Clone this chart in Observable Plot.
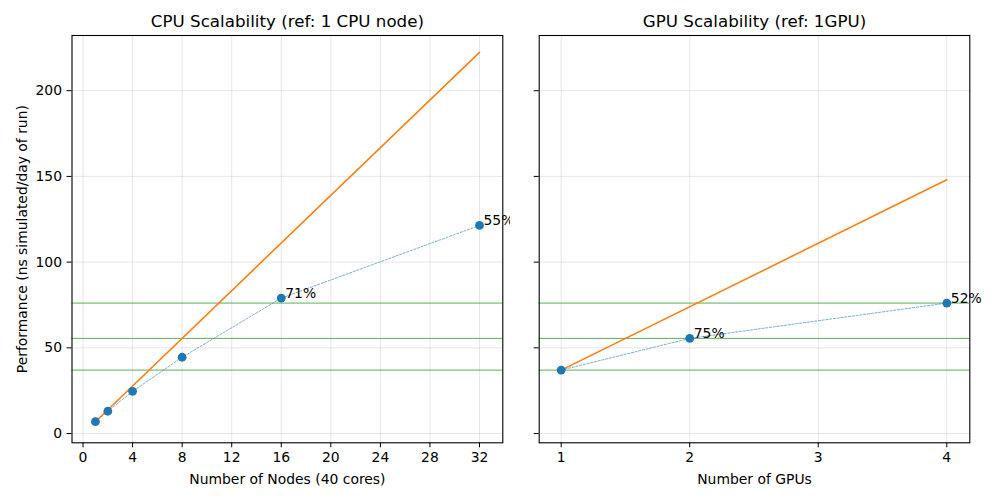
<!DOCTYPE html>
<html>
<head>
<meta charset="utf-8">
<script src="https://cdn.jsdelivr.net/npm/d3@7"></script>
<script src="https://cdn.jsdelivr.net/npm/@observablehq/plot@0.6"></script>
<style>
  html, body { margin: 0; padding: 0; background: white; }
  #wrap { position: relative; width: 1000px; height: 500px; background: white; }
  #wrap svg { position: absolute; top: 0; }
</style>
</head>
<body>
<div id="wrap"></div>
<script>
// ---- Data ----
const cpuNodes = [1, 2, 4, 8, 16, 32];
const cpuPerf = [6.9, 13.0, 24.6, 44.5, 79.0, 121.4];
const cpuEff = [null, null, null, null, "71%", "55%"];
const cpuIdealNodes = [1, 32];
const cpuIdealPerf = [6.9, 222.4];

const gpuCount = [1, 2, 4];
const gpuPerf = [37.0, 55.5, 76.1];
const gpuEff = [null, "75%", "52%"];
const gpuIdealCount = [1, 4];
const gpuIdealPerf = [37.0, 148.0];

const refLines = [37.0, 55.5, 76.1];

const cpuTicks = [0, 4, 8, 12, 16, 20, 24, 28, 32];
const gpuTicks = [1, 2, 3, 4];
const yTicks = [0, 50, 100, 150, 200];

const titles = ["CPU Scalability (ref: 1 CPU node)", "GPU Scalability (ref: 1GPU)"];
const xLabels = ["Number of Nodes (40 cores)", "Number of GPUs"];
const yLabel = "Performance (ns simulated/day of run)";

// ---- Styling ----
const BLUE = "#1f77b4", ORANGE = "#ff7f0e", GREEN = "#2ca02c";
const FONT = "DejaVu Sans";
const yDomain = [-5.4, 232.2];

function panel({width, marginLeft, marginRight, xDomain, xTicks, xs, ys, effs, ixs, iys, title, xLabel, showY}) {
  const pts = xs.map((x, i) => ({x, y: ys[i], label: effs[i]}));
  const ideal = ixs.map((x, i) => ({x, y: iys[i]}));
  const marks = [
    Plot.gridX(xTicks, {stroke: "#b0b0b0", strokeOpacity: 0.3, strokeWidth: 1}),
    Plot.gridY(yTicks, {stroke: "#b0b0b0", strokeOpacity: 0.3, strokeWidth: 1}),
    Plot.ruleY(refLines, {stroke: GREEN, strokeWidth: 0.8, strokeOpacity: 1}),
    Plot.line(pts, {x: "x", y: "y", stroke: BLUE, strokeWidth: 0.6, strokeDasharray: "2.2,1.6"}),
    Plot.line(ideal, {x: "x", y: "y", stroke: ORANGE, strokeWidth: 1.6}),
    Plot.dot(pts, {x: "x", y: "y", r: 4.4, fill: BLUE, stroke: "none"}),
    Plot.text(pts.filter(d => d.label), {x: "x", y: "y", text: "label", textAnchor: "start", lineAnchor: "bottom", dx: 4, fontSize: 13.9, fill: "black"}),
    Plot.axisX(xTicks, {tickSize: 5, tickPadding: 4.5, label: null, fontSize: 13.9, tickFormat: d => String(d)}),
    showY
      ? Plot.axisY(yTicks, {tickSize: 5, tickPadding: 5, label: null, fontSize: 13.9, tickFormat: d => String(d)})
      : Plot.axisY(yTicks, {tickSize: 5, tickFormat: () => "", label: null}),
    Plot.frame({stroke: "black", strokeWidth: 1.1}),
    Plot.text([title], {frameAnchor: "top", textAnchor: "middle", lineAnchor: "bottom", dy: -8.3, fontSize: 16.7, fill: "black"}),
    Plot.text([xLabel], {frameAnchor: "bottom", textAnchor: "middle", lineAnchor: "top", dy: 31, fontSize: 13.9, fill: "black"})
  ];
  if (showY) {
    marks.push(Plot.text([yLabel], {frameAnchor: "left", textAnchor: "middle", lineAnchor: "bottom", rotate: -90, dx: -45, fontSize: 13.9, fill: "black"}));
  }
  return Plot.plot({
    width, height: 500,
    marginLeft, marginRight, marginTop: 35, marginBottom: 57.7,
    x: {domain: xDomain},
    y: {domain: yDomain},
    style: {fontFamily: FONT, fontSize: "13.9px", color: "black", background: "white", overflow: "visible"},
    marks
  });
}

const left = panel({
  width: 510, marginLeft: 71.5, marginRight: 7.7,
  xDomain: [-0.89, 33.88], xTicks: cpuTicks,
  xs: cpuNodes, ys: cpuPerf, effs: cpuEff, ixs: cpuIdealNodes, iys: cpuIdealPerf,
  title: titles[0], xLabel: xLabels[0], showY: true
});
const right = panel({
  width: 490, marginLeft: 28.7, marginRight: 30.7,
  xDomain: [0.829, 4.179], xTicks: gpuTicks,
  xs: gpuCount, ys: gpuPerf, effs: gpuEff, ixs: gpuIdealCount, iys: gpuIdealPerf,
  title: titles[1], xLabel: xLabels[1], showY: false
});
left.style.left = "0px";
right.style.left = "510px";
const wrap = document.getElementById("wrap");
wrap.appendChild(left);
wrap.appendChild(right);
</script>
</body>
</html>
